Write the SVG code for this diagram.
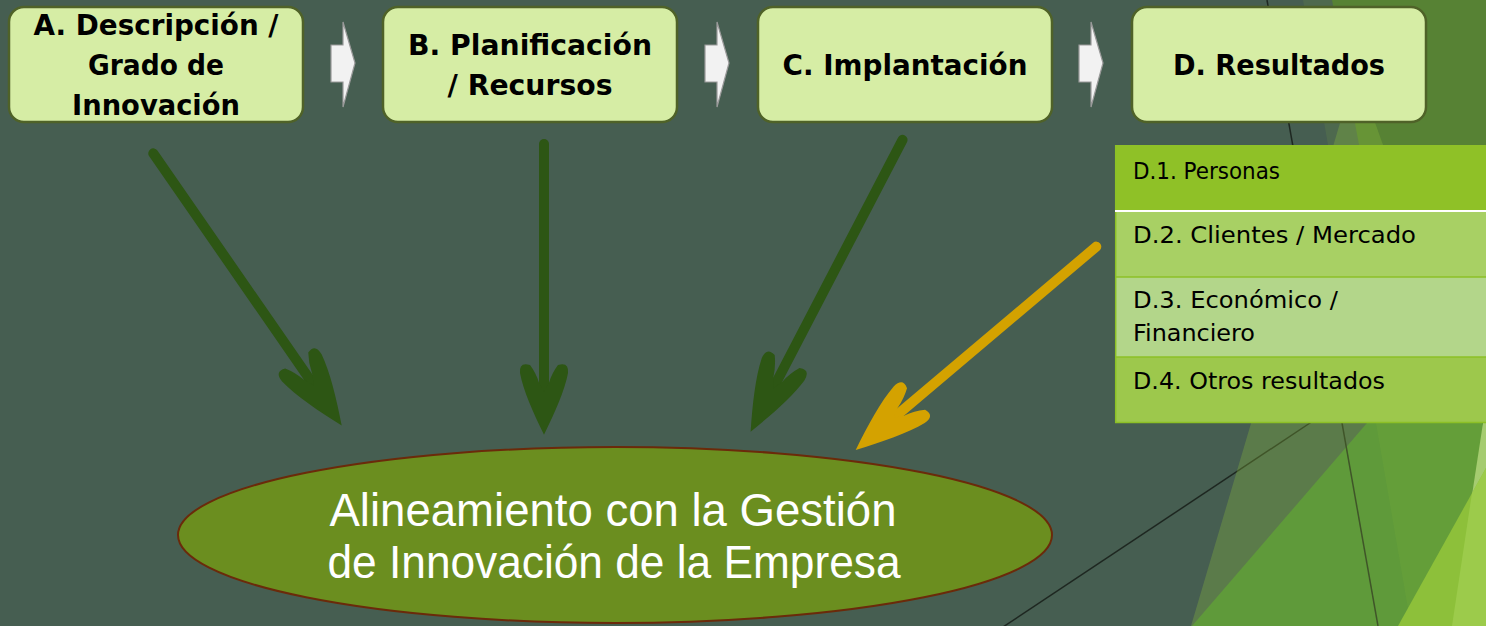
<svg xmlns="http://www.w3.org/2000/svg" width="1486" height="626" viewBox="0 0 1486 626">
<defs>
<style>
.box{fill:#D6EDA5;stroke:#4F6228;stroke-width:2.5}
.bt{font-family:"DejaVu Sans","Liberation Sans",sans-serif;font-weight:bold;font-size:29px;fill:#000;text-anchor:middle}
.lt{font-family:"DejaVu Sans","Liberation Sans",sans-serif;font-size:23.5px;fill:#000}
.chev{fill:#F2F2F2;stroke:#9A9A9A;stroke-width:1.2}
.shaftG{stroke:#2D5614;stroke-width:10;stroke-linecap:round;fill:none}
.headG{fill:#2D5614}
.shaftY{stroke:#D4A200;stroke-width:10;stroke-linecap:round;fill:none}
.headY{fill:#D4A200}
.thin{stroke:#1E2721;stroke-width:1.5;fill:none}
.sep{stroke:#8DC026;stroke-width:1.5}
</style>
<path id="head" d="M0,3 C-11,-22 -21,-48 -24,-67 Q-25,-80 -14,-76 Q-8,-67 -5,-56 L0,-46 L5,-56 Q8,-67 14,-76 Q25,-80 24,-67 C21,-48 11,-22 0,3 Z"/>
</defs>
<g id="background">
<rect x="0" y="0" width="1486" height="626" fill="#465E51"/>
<polygon points="1332,0 1486,0 1486,150 1360,150" fill="#507A34"/>
<polygon points="1367,423 1486,423 1486,626 1192,626" fill="#4B8A3A"/>
<line class="thin" x1="1003" y1="627" x2="1340" y2="403"/>
<line class="thin" x1="1267" y1="0" x2="1378" y2="626"/>
<polygon points="1356,69 1554,626 1191,626" fill="#8DC03A" fill-opacity="0.3"/>
<polygon points="1303,0 1486,0 1486,626 1411,626" fill="#8DC03A" fill-opacity="0.12"/>
<polygon points="1483,423 1486,423 1486,626 1452,626" fill="#A5CC70"/>
<polygon points="1398,626 1486,468 1486,626" fill="#8DC03A"/>
<polygon points="1472,493 1486,468 1486,626 1452,626" fill="#9CCB4B"/>
</g>
<g id="connectors">
<path class="chev" d="M331,45 H343 V22 L355,63 L343,107 V82 H331 Z"/>
<path class="chev" d="M705,45 H717 V22 L729,63 L717,107 V82 H705 Z"/>
<path class="chev" d="M1079,45 H1091 V22 L1103,63 L1091,107 V82 H1079 Z"/>
<g transform="translate(340,423) rotate(-34.7)">
<line class="shaftG" x1="0" y1="-328" x2="0" y2="-30"/>
<use href="#head" class="headG"/>
</g>
<g transform="translate(544,432)">
<line class="shaftG" x1="0" y1="-288" x2="0" y2="-30"/>
<use href="#head" class="headG" transform="scale(1,0.88)"/>
</g>
<g transform="translate(752,429) rotate(27.5)">
<line class="shaftG" x1="0" y1="-326" x2="0" y2="-30"/>
<use href="#head" class="headG"/>
</g>
<g transform="translate(858,448) rotate(49.8)">
<line class="shaftY" x1="0" y1="-312" x2="0" y2="-30"/>
<use href="#head" class="headY"/>
</g>
</g>
<g id="nodeA">
<rect class="box" x="9" y="7" width="294" height="115" rx="15"/>
<text class="bt" x="156" y="35" textLength="245" lengthAdjust="spacingAndGlyphs">A. Descripción /</text>
<text class="bt" x="156" y="75" textLength="136" lengthAdjust="spacingAndGlyphs">Grado de</text>
<text class="bt" x="156" y="115" textLength="168" lengthAdjust="spacingAndGlyphs">Innovación</text>
</g>
<g id="nodeB">
<rect class="box" x="383" y="7" width="294" height="115" rx="15"/>
<text class="bt" x="530" y="55" textLength="244" lengthAdjust="spacingAndGlyphs">B. Planificación</text>
<text class="bt" x="530" y="95" textLength="165" lengthAdjust="spacingAndGlyphs">/ Recursos</text>
</g>
<g id="nodeC">
<rect class="box" x="758" y="7" width="294" height="115" rx="15"/>
<text class="bt" x="905" y="75" textLength="245" lengthAdjust="spacingAndGlyphs">C. Implantación</text>
</g>
<g id="nodeD">
<rect class="box" x="1132" y="7" width="294" height="115" rx="15"/>
<text class="bt" x="1279" y="75" textLength="212" lengthAdjust="spacingAndGlyphs">D. Resultados</text>
</g>
<g id="resultsList">
<rect x="1115" y="145" width="371" height="66" fill="#8FC127"/>
<rect x="1115" y="211" width="371" height="66" fill="#A8D064"/>
<rect x="1115" y="277" width="371" height="80" fill="#B3D68A"/>
<rect x="1115" y="357" width="371" height="66" fill="#9DC84C"/>
<line class="sep" x1="1115.7" y1="145" x2="1115.7" y2="423"/>
<line x1="1115" y1="211" x2="1486" y2="211" stroke="#FFFFFF" stroke-width="2"/>
<line class="sep" x1="1115" y1="277" x2="1486" y2="277"/>
<line class="sep" x1="1115" y1="357" x2="1486" y2="357"/>
<line class="sep" x1="1115" y1="422.5" x2="1486" y2="422.5"/>
<text class="lt" x="1133" y="179" textLength="147" lengthAdjust="spacingAndGlyphs">D.1. Personas</text>
<text class="lt" x="1133" y="243" textLength="283" lengthAdjust="spacingAndGlyphs">D.2. Clientes / Mercado</text>
<text class="lt" x="1133" y="308" textLength="205" lengthAdjust="spacingAndGlyphs">D.3. Económico /</text>
<text class="lt" x="1133" y="341" textLength="122" lengthAdjust="spacingAndGlyphs">Financiero</text>
<text class="lt" x="1133" y="389" textLength="252" lengthAdjust="spacingAndGlyphs">D.4. Otros resultados</text>
</g>
<g id="goal">
<ellipse cx="615" cy="535" rx="437" ry="88" fill="#6B8E1F" stroke="#6B2A0A" stroke-width="2"/>
<text x="613" y="526" font-family="Liberation Sans, Arial, sans-serif" font-size="46" fill="#FFFFFF" text-anchor="middle" textLength="567" lengthAdjust="spacingAndGlyphs">Alineamiento con la Gestión</text>
<text x="614" y="578" font-family="Liberation Sans, Arial, sans-serif" font-size="46" fill="#FFFFFF" text-anchor="middle" textLength="573" lengthAdjust="spacingAndGlyphs">de Innovación de la Empresa</text>
</g>
</svg>
